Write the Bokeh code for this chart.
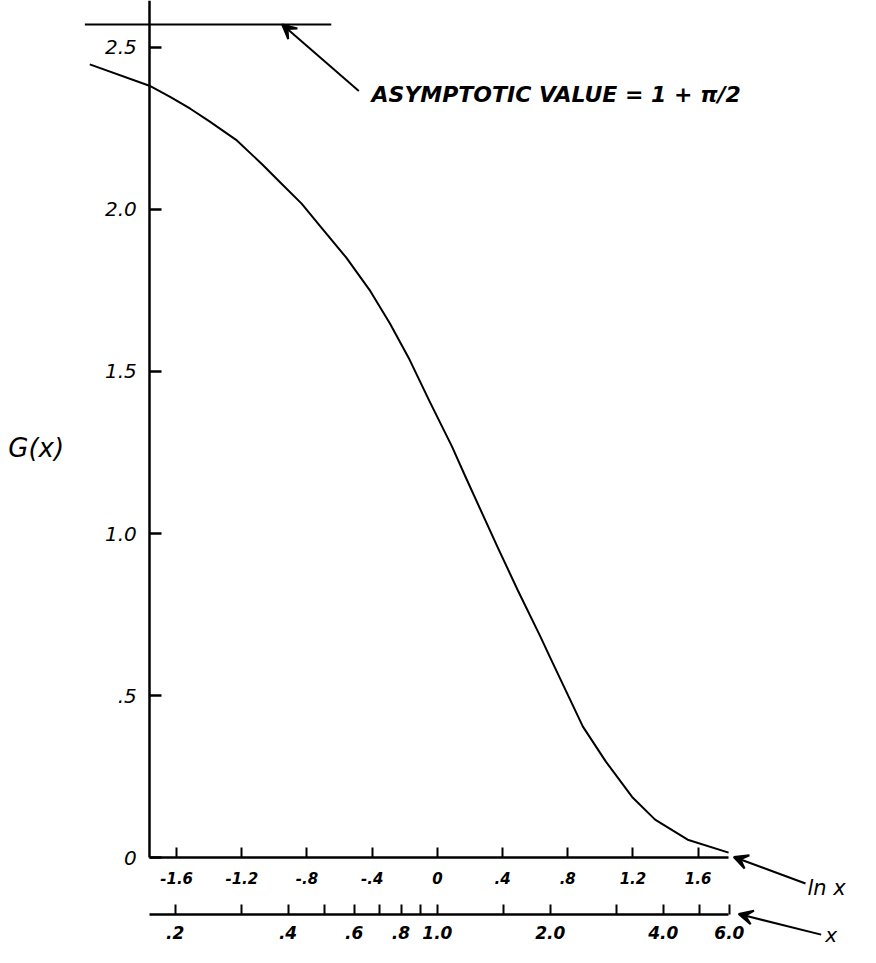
import numpy as np
from bokeh.plotting import figure
from bokeh.models import (LinearAxis, LogAxis, Range1d, LogScale, FixedTicker,
                          Arrow, VeeHead, Label)
from bokeh.embed import file_html
from bokeh.resources import INLINE

# ---- data ----
ln_x = [-2.133, -1.767, -1.637, -1.516, -1.396, -1.235, -1.074, -0.953, -0.833,
        -0.713, -0.560, -0.411, -0.291, -0.170, -0.050, 0.090, 0.169, 0.373,
        0.494, 0.633, 0.693, 0.893, 1.034, 1.195, 1.336, 1.536, 1.787]
g_vals = [2.448, 2.382, 2.347, 2.311, 2.271, 2.215, 2.139, 2.078, 2.018,
          1.945, 1.852, 1.748, 1.648, 1.536, 1.410, 1.268, 1.179, 0.954,
          0.824, 0.681, 0.616, 0.404, 0.296, 0.187, 0.117, 0.055, 0.015]

asymptote = 1 + np.pi / 2

y_ticks = [0, 0.5, 1.0, 1.5, 2.0, 2.5]
y_labels = ["0", ".5", "1.0", "1.5", "2.0", "2.5"]

ln_ticks = [-1.6, -1.2, -0.8, -0.4, 0, 0.4, 0.8, 1.2, 1.6]
ln_labels = ["-1.6", "-1.2", "-.8", "-.4", "0", ".4", ".8", "1.2", "1.6"]

x_major = [0.2, 0.4, 0.6, 0.8, 1.0, 2.0, 4.0, 6.0]
x_major_labels = [".2", ".4", ".6", ".8", "1.0", "2.0", "4.0", "6.0"]
x_minor = [0.3, 0.5, 0.7, 0.9, 1.5, 3.0, 5.0]

# ---- layout ----
x_start, x_end = -2.6807, 2.5964
y_bottom, y_top = -0.2777, 2.645
axis_left = -1.765
axis_right = 1.789
xv_axis_y = -0.1745

FONT = "DejaVu Sans"

p = figure(width=860, height=947, x_range=Range1d(x_start, x_end),
           y_range=Range1d(y_bottom, y_top), x_axis_type=None, y_axis_type=None,
           min_border=0, toolbar_location=None, output_backend="svg")
p.outline_line_color = None
p.grid.visible = False
p.title.visible = False

p.extra_x_ranges = {"xv": Range1d(np.exp(x_start), np.exp(x_end))}
p.extra_x_scales = {"xv": LogScale()}

# G(x) axis
yaxis = LinearAxis(fixed_location=axis_left, bounds=(0, y_top),
                   ticker=FixedTicker(ticks=y_ticks),
                   major_label_overrides=dict(zip(y_ticks, y_labels)),
                   major_tick_in=12, major_tick_out=0,
                   minor_tick_in=0, minor_tick_out=0,
                   axis_line_width=2.5, major_tick_line_width=2.5,
                   major_label_standoff=13,
                   major_label_text_font=FONT,
                   major_label_text_font_size="20px",
                   major_label_text_font_style="italic",
                   major_label_text_color="black")
p.add_layout(yaxis, "left")

# ln x axis
lnaxis = LinearAxis(fixed_location=0, bounds=(axis_left, axis_right),
                    ticker=FixedTicker(ticks=ln_ticks),
                    major_label_overrides=dict(zip(ln_ticks, ln_labels)),
                    major_tick_in=10, major_tick_out=0,
                    minor_tick_in=0, minor_tick_out=0,
                    axis_line_width=2.5, major_tick_line_width=2,
                    major_label_standoff=14,
                    major_label_text_font=FONT,
                    major_label_text_font_size="15px",
                    major_label_text_font_style="bold italic",
                    major_label_text_color="black")
p.add_layout(lnaxis, "below")

# x axis (log scale)
xaxis = LogAxis(x_range_name="xv", fixed_location=xv_axis_y,
                bounds=(np.exp(axis_left), np.exp(axis_right)),
                ticker=FixedTicker(ticks=x_major, minor_ticks=x_minor),
                major_label_overrides=dict(zip(x_major, x_major_labels)),
                major_tick_in=10, major_tick_out=0,
                minor_tick_in=10, minor_tick_out=0,
                axis_line_width=2.5, major_tick_line_width=2, minor_tick_line_width=2,
                minor_tick_line_color="black",
                major_label_standoff=12,
                major_label_text_font=FONT,
                major_label_text_font_size="17px",
                major_label_text_font_style="bold italic",
                major_label_text_color="black")
p.add_layout(xaxis, "below")

# curve
p.line(ln_x, g_vals, line_color="black", line_width=2, line_join="round")

# asymptote line
p.segment(x0=[-2.163], y0=[asymptote], x1=[-0.651], y1=[asymptote],
          line_color="black", line_width=2)

# annotations
head = dict(size=14, line_width=2, line_color="black", fill_color="black")
p.add_layout(Arrow(end=VeeHead(**head), x_start=-0.482, y_start=2.366,
                   x_end=-0.952, y_end=asymptote, line_width=2))
p.add_layout(Label(x=-0.404, y=2.354, text="ASYMPTOTIC VALUE = 1 + π/2",
                   text_baseline="middle", text_font=FONT, text_font_size="22px",
                   text_font_style="bold italic", text_color="black"))

p.add_layout(Label(x=-2.633, y=1.264, text="G(x)", text_baseline="middle",
                   text_font=FONT, text_font_size="26px", text_font_style="italic",
                   text_color="black"))

p.add_layout(Arrow(end=VeeHead(**head), x_start=2.259, y_start=-0.080,
                   x_end=1.819, y_end=0.0015, line_width=2))
p.add_layout(Label(x=2.271, y=-0.0926, text="ln x", text_baseline="middle",
                   text_font=FONT, text_font_size="21px", text_font_style="italic",
                   text_color="black"))

p.add_layout(Arrow(end=VeeHead(**head), x_start=2.355, y_start=-0.238,
                   x_end=1.849, y_end=xv_axis_y, line_width=2))
p.add_layout(Label(x=2.380, y=-0.238, text="x", text_baseline="middle",
                   text_font=FONT, text_font_size="20px", text_font_style="italic",
                   text_color="black"))

open("out.html", "w").write(file_html(p, INLINE))
